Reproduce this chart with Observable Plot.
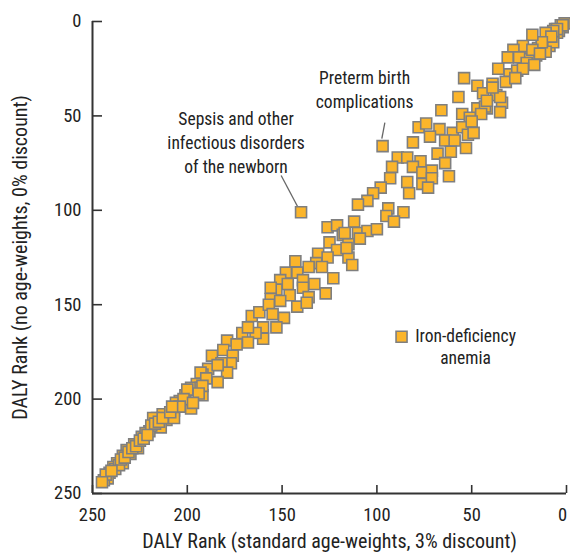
<!DOCTYPE html>
<html><head><meta charset="utf-8">
<script src="https://cdn.jsdelivr.net/npm/d3@7"></script>
<script src="https://cdn.jsdelivr.net/npm/@observablehq/plot@0.6"></script>
<style>
body{margin:0;background:#fff;}
#chart svg{display:block;}
</style>
</head><body><div id="chart"></div>
<script>
// DALY rank with standard age-weights & 3% discount (x) vs no age-weights & 0% discount (y)
const stdRank = [
  1,2,3,4,5,6,8,9,10,12,11,13,15,16,19,20,9,7,11,
  2,5,7,11,8,13,18,23,28,18,14,31,25,21,17,36,30,26,23,47,39,32,27,44,37,34,47,42,35,54,57,66,55,43,42,35,39,51,45,78,74,67,60,55,50,52,72,64,59,81,49,
  97,89,84,77,68,61,53,92,81,76,71,64,93,84,76,71,62,73,83,98,102,105,110,94,86,95,91,112,126,121,118,110,105,100,125,115,109,121,115,113,131,126,132,143,136,129,142,148,151,147,139,133,123,127,139,153,136,146,156,142,137,156,151,117,116,140,87,
  166,162,157,155,149,153,160,160,164,171,168,168,179,174,187,181,176,177,182,189,179,184,192,195,198,193,201,192,198,204,207,213,216,211,220,224,228,232,234,237,239,241,242,244,230,226,222,234,
  206,214,184,193,190,192,200,194,202,197,204,207,218,219,
  238,236,235,233,231,229,227,225,223,221,217,215,213,209,208,243,240,245
];
const noAwRank = [
  1,3,2,5,6,4,9,10,8,12,14,13,14,18,18,20,13,11,16,
  2,4,5,6,8,11,7,13,15,15,17,19,19,22,23,25,28,26,25,34,33,32,30,38,39,43,46,46,48,30,40,47,49,45,42,40,35,51,49,56,54,57,59,56,53,60,61,63,63,64,59,
  66,72,72,74,70,69,67,77,77,80,79,75,83,85,86,83,82,88,91,88,91,95,97,99,101,103,106,106,109,108,113,112,111,110,117,118,115,121,125,129,123,125,128,127,130,130,133,133,137,139,137,139,136,144,141,142,146,145,141,151,149,147,148,112,120,101,167,
  156,154,150,155,157,162,162,168,165,165,162,170,169,171,177,174,177,181,181,184,186,191,187,192,194,194,198,198,205,201,206,208,210,211,217,220,224,227,230,234,236,239,242,243,229,226,218,234,
  202,215,182,186,189,193,195,197,200,202,204,210,210,214,
  237,235,232,231,228,226,225,222,221,219,213,212,210,207,204,240,238,244
];
const xTicks = [250, 200, 150, 100, 50, 0];
const yTicks = [0, 50, 100, 150, 200, 250];
const xLabel = "DALY Rank (standard age-weights, 3% discount)";
const yLabel = "DALY Rank (no age-weights, 0% discount)";
const causes = stdRank.map((x, i) => ({x, y: noAwRank[i]}));
const preterm = [{x: 97, y: 66, label: "Preterm birth\ncomplications", lx1: 97.4, ly1: 62, lx2: 95.8, ly2: 53.5}];
const sepsis = [{x: 140, y: 101, label: "Sepsis and other\ninfectious disorders\nof the newborn", lx1: 141, ly1: 99.6, lx2: 150.5, ly2: 81.6}];
const iron = [{x: 87, y: 167, label: "Iron-deficiency\nanemia"}];

const FONT = "'Roboto Condensed', 'Liberation Sans Narrow', Roboto, sans-serif";
const AX = "#333333";
const TXT = "#222222";

const chart = Plot.plot({
  width: 570,
  height: 556,
  marginTop: 21,
  marginBottom: 63,
  marginLeft: 92,
  marginRight: 4,
  style: {fontFamily: FONT, fontSize: "18px", color: TXT, background: "#fff"},
  x: {domain: [250, 0], label: null},
  y: {domain: [0, 250], reverse: true, label: null},
  marks: [
    // tick labels
    Plot.axisX(xTicks.filter(d => d !== 0), {tickSize: 0, tickPadding: 14, fontSize: 18.5, fill: TXT, label: null}),
    Plot.axisX(xTicks.filter(d => d === 0), {tickSize: 0, tickPadding: 14, dx: -4, fontSize: 18.5, fill: TXT, label: null}),
    Plot.axisY(yTicks, {tickSize: 0, tickPadding: 11, fontSize: 18.5, fill: TXT, label: null}),
    // axis titles
    Plot.text([xLabel], {frameAnchor: "bottom", dy: 54, fontSize: 20, fill: TXT}),
    Plot.text([yLabel], {frameAnchor: "left", dx: -72, rotate: -90, textAnchor: "middle", lineAnchor: "middle", fontSize: 20, fill: TXT}),
    // inward tick marks
    Plot.axisX(xTicks, {tickSize: 8, dy: -8, tickFormat: () => "", stroke: AX, strokeWidth: 1.6, label: null}),
    Plot.axisY(yTicks, {tickSize: 10, dx: 10, tickFormat: () => "", stroke: AX, strokeWidth: 1.6, label: null}),
    // axis lines
    Plot.ruleY([250], {stroke: AX, strokeWidth: 2}),
    Plot.ruleX([250], {stroke: AX, strokeWidth: 2}),
    // leader lines
    Plot.link(preterm, {x1: "lx1", y1: "ly1", x2: "lx2", y2: "ly2", stroke: "#666", strokeWidth: 1.3}),
    Plot.link(sepsis, {x1: "lx1", y1: "ly1", x2: "lx2", y2: "ly2", stroke: "#666", strokeWidth: 1.3}),
    // points
    Plot.dot(causes, {x: "x", y: "y", symbol: "square", r: 6.2, fill: "#FBB52B", stroke: "#7f7f7f", strokeWidth: 1.6, fillOpacity: 1}),
    // annotation texts
    Plot.text(preterm, {x: "x", y: "y", text: "label", dx: -18, dy: -58, fontSize: 17.5, lineHeight: 1.36, fill: TXT}),
    Plot.text(sepsis, {x: "x", y: "y", text: "label", dx: -65, dy: -71, fontSize: 17.5, lineHeight: 1.36, fill: TXT}),
    Plot.text(iron, {x: "x", y: "y", text: "label", dx: 64, dy: 9, fontSize: 17.5, lineHeight: 1.3, fill: TXT})
  ]
});
document.getElementById("chart").appendChild(chart);
</script>
</body></html>
